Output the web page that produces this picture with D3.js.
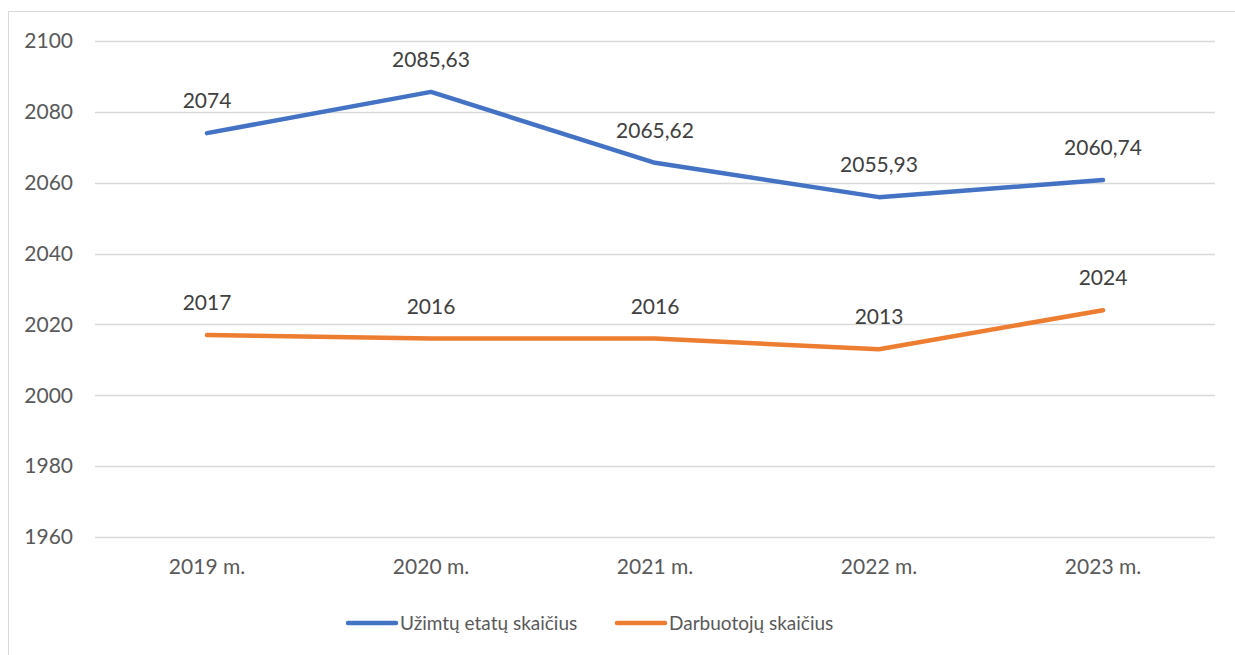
<!DOCTYPE html>
<html>
<head>
<meta charset="utf-8">
<script src="https://cdn.jsdelivr.net/npm/d3@7"></script>
<style>
  body { margin: 0; background: #fff; }
  svg { display: block; font-family: Lato, "Open Sans", sans-serif; }
</style>
</head>
<body>
<div id="chart"></div>
<script>
const categories = ["2019 m.", "2020 m.", "2021 m.", "2022 m.", "2023 m."];
const etatai = [2074, 2085.63, 2065.62, 2055.93, 2060.74];
const darbuotojai = [2017, 2016, 2016, 2013, 2024];
const seriesNames = ["Užimtų etatų skaičius", "Darbuotojų skaičius"];
const seriesColors = ["#4472C4", "#ED7D31"];
const yTicks = [1960, 1980, 2000, 2020, 2040, 2060, 2080, 2100];

const width = 1235, height = 655;
const margin = { top: 41, right: 20, bottom: 118, left: 95 };

const svg = d3.select("#chart").append("svg")
  .attr("width", width)
  .attr("height", height);

// chart frame
svg.append("rect")
  .attr("x", 8.5).attr("y", 11.5)
  .attr("width", width + 10).attr("height", height + 10)
  .attr("fill", "none")
  .attr("stroke", "#d9d9d9")
  .attr("stroke-width", 1);

const x = d3.scaleBand()
  .domain(categories)
  .range([margin.left, width - margin.right]);

const y = d3.scaleLinear()
  .domain([1960, 2100])
  .range([height - margin.bottom, margin.top]);

const fmt = v => String(v).replace(".", ",");

// gridlines
svg.append("g")
  .selectAll("line")
  .data(yTicks)
  .enter().append("line")
  .attr("x1", margin.left)
  .attr("x2", width - margin.right)
  .attr("y1", d => Math.round(y(d)) + 0.5)
  .attr("y2", d => Math.round(y(d)) + 0.5)
  .attr("stroke", "#d9d9d9")
  .attr("stroke-width", 1.5);

// y axis
const yAxis = svg.append("g")
  .attr("transform", `translate(${margin.left - 22},0)`)
  .call(d3.axisLeft(y).tickValues(yTicks).tickFormat(d3.format("d")).tickSize(0).tickPadding(0));
yAxis.select(".domain").remove();
yAxis.selectAll("text")
  .attr("font-size", "21px")
  .attr("fill", "#595959")
  .attr("font-family", "Lato, sans-serif");

// x axis
const xAxis = svg.append("g")
  .attr("transform", `translate(0,${height - margin.bottom + 22})`)
  .call(d3.axisBottom(x).tickSize(0).tickPadding(0));
xAxis.select(".domain").remove();
xAxis.selectAll("text")
  .attr("font-size", "21px")
  .attr("fill", "#595959")
  .attr("font-family", "Lato, sans-serif");

const line = d3.line()
  .x((d, i) => x(categories[i]) + x.bandwidth() / 2)
  .y(d => y(d));

[etatai, darbuotojai].forEach((vals, s) => {
  svg.append("path")
    .datum(vals)
    .attr("d", line)
    .attr("fill", "none")
    .attr("stroke", seriesColors[s])
    .attr("stroke-width", 4.5)
    .attr("stroke-linecap", "round")
    .attr("stroke-linejoin", "round");

  svg.append("g")
    .selectAll("text")
    .data(vals)
    .enter().append("text")
    .attr("x", (d, i) => x(categories[i]) + x.bandwidth() / 2)
    .attr("y", d => y(d) - 25)
    .attr("text-anchor", "middle")
    .attr("font-size", "21px")
    .attr("fill", "#404040")
    .text(d => fmt(d));
});

// legend
const legendX = [348, 617];
const legendY = 623;
const legend = svg.append("g");
seriesNames.forEach((name, i) => {
  legend.append("line")
    .attr("x1", legendX[i]).attr("x2", legendX[i] + 48)
    .attr("y1", legendY).attr("y2", legendY)
    .attr("stroke", seriesColors[i])
    .attr("stroke-width", 4.5)
    .attr("stroke-linecap", "round");
  legend.append("text")
    .attr("x", legendX[i] + 52)
    .attr("y", legendY)
    .attr("dy", "0.35em")
    .attr("font-size", "19px")
    .attr("fill", "#595959")
    .text(name);
});
</script>
</body>
</html>
